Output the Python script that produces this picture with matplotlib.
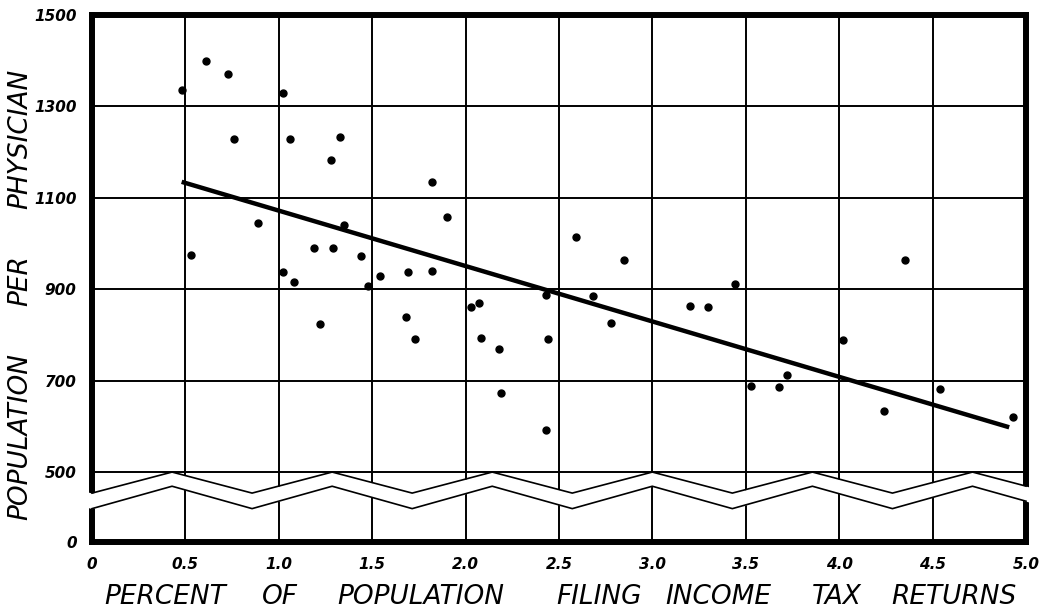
import numpy as np
import matplotlib
matplotlib.use("Agg")
import matplotlib.pyplot as plt

# ---- data ----
pct_returns = [0.48, 0.61, 0.73, 1.02, 0.76, 1.06, 1.33, 1.28, 0.89, 0.53,
               1.19, 1.29, 1.35, 1.02, 1.08, 1.82, 1.90, 2.59, 2.85, 1.44,
               1.54, 1.69, 1.82, 1.48, 2.43, 2.68, 3.44, 4.35, 1.68, 1.73,
               2.03, 2.07, 2.08, 2.18, 2.19, 2.44, 2.43, 2.78, 3.20, 3.30,
               4.02, 3.53, 3.68, 3.72, 4.24, 4.54, 4.93, 1.22]
pop_per_physician = [1336, 1399, 1370, 1330, 1228, 1228, 1234, 1182, 1044, 976,
                     991, 991, 1040, 938, 916, 1135, 1059, 1014, 964, 973,
                     929, 938, 941, 907, 887, 885, 911, 965, 839, 792,
                     862, 869, 793, 769, 672, 791, 593, 827, 864, 862,
                     789, 688, 687, 712, 634, 681, 621, 824]

trend_x = [0.48, 4.91]
trend_y = [1135, 598]

x_ticks = [0, 0.5, 1.0, 1.5, 2.0, 2.5, 3.0, 3.5, 4.0, 4.5, 5.0]
x_tick_labels = ["0", "0.5", "1.0", "1.5", "2.0", "2.5", "3.0", "3.5", "4.0", "4.5", "5.0"]
y_bottom = 347          # position standing for the broken-axis "0"
y_ticks = [y_bottom, 500, 700, 900, 1100, 1300, 1500]
y_tick_labels = ["0", "500", "700", "900", "1100", "1300", "1500"]

x_words = ["PERCENT", "OF", "POPULATION", "FILING", "INCOME", "TAX", "RETURNS"]
y_words = ["POPULATION", "PER", "PHYSICIAN"]

# ---- axis-break (zigzag) decoration ----
ZIG_PERIOD = 0.857
UP_PEAK, UP_TROUGH = 500, 454
LO_PEAK, LO_TROUGH = 469, 420

W, H = 1043, 610
fig = plt.figure(figsize=(W / 100, H / 100), dpi=100)
ax = fig.add_axes([92 / W, 68 / H, 934 / W, 527 / H])
ax.set_xlim(0, 5.0)
ax.set_ylim(y_bottom, 1500)

ax.set_axisbelow(True)
ax.set_xticks(x_ticks)
ax.set_xticklabels(x_tick_labels)
ax.set_yticks(y_ticks)
ax.set_yticklabels(y_tick_labels)
ax.grid(True, color="black", linewidth=1.4)
ax.tick_params(length=0, labelsize=11, pad=11)
for lab in ax.get_xticklabels() + ax.get_yticklabels():
    lab.set_fontweight("bold")
    lab.set_fontstyle("italic")
for s in ax.spines.values():
    s.set_linewidth(4.3)
    s.set_color("black")

# zigzag break
half = ZIG_PERIOD / 2
k = np.arange(-2, 16)
kx = k * half
up = np.where(k % 2 == 0, UP_TROUGH, UP_PEAK)
lo = np.where(k % 2 == 0, LO_TROUGH, LO_PEAK)
xs_fill = np.sort(np.concatenate([kx[(kx > -0.04) & (kx < 5.04)], [-0.04, 5.04]]))
ax.fill_between(xs_fill, np.interp(xs_fill, kx, lo), np.interp(xs_fill, kx, up),
                color="white", zorder=2.6, clip_on=False, linewidth=0)
xs_line = np.sort(np.concatenate([kx[(kx > 0) & (kx < 5.0)], [0.0, 5.0]]))
ax.plot(xs_line, np.interp(xs_line, kx, up), color="black", lw=1.2, zorder=2.7, clip_on=False)
ax.plot(xs_line, np.interp(xs_line, kx, lo), color="black", lw=1.2, zorder=2.7, clip_on=False)

# data
ax.plot(trend_x, trend_y, color="black", lw=3.2, solid_capstyle="butt", zorder=3)
ax.plot(pct_returns, pop_per_physician, "o", color="black", ms=5, zorder=4)

# axis titles, word by word (wide lettering of the original)
x_word_px = [165, 280, 421, 599, 718, 837, 954]
for wd, px in zip(x_words, x_word_px):
    fig.text(px / W, 13 / H, wd, ha="center", va="center", fontsize=19,
             fontstyle="italic")
y_word_py = [436, 281, 139]
for wd, py in zip(y_words, y_word_py):
    fig.text(20 / W, (H - py) / H, wd, ha="center", va="center", fontsize=19,
             fontstyle="italic", rotation=90)

fig.savefig("out.png", dpi=100)
